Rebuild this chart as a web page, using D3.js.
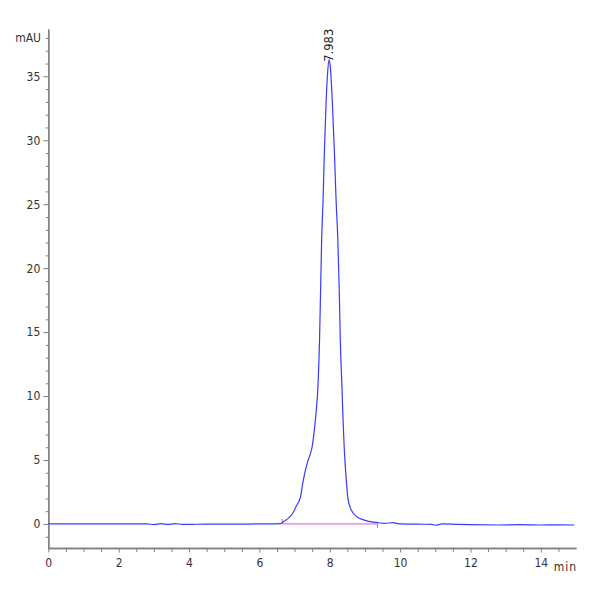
<!DOCTYPE html>
<html>
<head>
<meta charset="utf-8">
<script src="https://cdn.jsdelivr.net/npm/d3@7"></script>
<style>
  html, body { margin: 0; padding: 0; background: #fff; }
  svg { display: block; }
  .tk text, .unit { font-family: "Liberation Sans Narrow", "DejaVu Sans Condensed", sans-serif; font-stretch: condensed; font-size: 12px; fill: #333; }
</style>
</head>
<body>
<svg id="chart" width="600" height="600"></svg>
<script>
// ---- data ----
const timeMin = [0, 1, 2, 2.8, 3.0, 3.2, 3.4, 3.6, 3.8, 4.5, 5.5, 5.9, 6.3, 6.6, 6.67, 6.8, 6.95, 7.05, 7.17, 7.25, 7.36, 7.45, 7.50, 7.56, 7.61, 7.66, 7.71, 7.74, 7.77, 7.81, 7.85, 7.90, 7.94, 7.983, 8.02, 8.07, 8.13, 8.18, 8.23, 8.27, 8.30, 8.35, 8.38, 8.41, 8.47, 8.51, 8.58, 8.67, 8.80, 8.94, 9.10, 9.32, 9.55, 9.80, 10.0, 10.5, 10.9, 11.0, 11.2, 11.6, 12.0, 12.8, 13.4, 14.0, 14.5, 14.95];
const signal  = [0.0, 0.0, 0.0, 0.0, -0.05, 0.02, -0.04, 0.02, -0.03, -0.02, -0.02, 0.0, 0.0, 0.02, 0.15, 0.4, 0.84, 1.4, 2.14, 3.44, 4.75, 5.5, 6.05, 7.3, 8.66, 10.5, 14.4, 18.3, 22.2, 25.35, 29.3, 33.2, 35.3, 36.3, 35.6, 33.2, 29.3, 25.35, 22.2, 18.3, 14.4, 10.5, 8.0, 6.05, 3.44, 2.14, 1.3, 0.84, 0.5, 0.34, 0.2, 0.13, 0.05, 0.1, 0.0, -0.02, -0.03, -0.1, 0.0, -0.03, -0.06, -0.08, -0.06, -0.08, -0.07, -0.08];
const yMajorTicks = [0, 5, 10, 15, 20, 25, 30, 35];
const xMajorTicks = [0, 2, 4, 6, 8, 10, 12, 14];
const peakLabel = "7.983";
const peakTime = 7.983;
const peakHeight = 36.3;
const baselineStart = 6.65;
const baselineEnd = 9.36;
const yUnit = "mAU";
const xUnit = "min";

// ---- drawing ----
const svg = d3.select("#chart");
const x = d3.scaleLinear().domain([0, 15]).range([48.3, 576]);
const y = d3.scaleLinear().domain([-1.88, 38.7]).range([548, 29]);

const axisColor = "#7f7f7f";

// y axis minor ticks
const yMinor = d3.range(-1, 39, 1).filter(v => !yMajorTicks.includes(v));
const gyMinor = svg.append("g").attr("transform", `translate(${x(0)},0)`)
  .call(d3.axisLeft(y).tickValues(yMinor).tickSize(2.5).tickFormat("").tickSizeOuter(0));
const gy = svg.append("g").attr("class", "tk").attr("transform", `translate(${x(0)},0)`)
  .call(d3.axisLeft(y).tickValues(yMajorTicks).tickSize(5).tickPadding(3).tickFormat(d3.format("d")).tickSizeOuter(0));

// x axis
const xMinor = d3.range(0.5, 15, 0.5).filter(v => !xMajorTicks.includes(v));
const gxMinor = svg.append("g").attr("transform", `translate(0,${y.range()[0]})`)
  .call(d3.axisBottom(x).tickValues(xMinor).tickSize(4).tickFormat("").tickSizeOuter(0));
const gx = svg.append("g").attr("class", "tk").attr("transform", `translate(0,${y.range()[0]})`)
  .call(d3.axisBottom(x).tickValues(xMajorTicks).tickSize(4.5).tickPadding(6).tickFormat(d3.format("d")).tickSizeOuter(0));

[gyMinor, gy, gxMinor, gx].forEach(g => {
  g.selectAll("path.domain").attr("stroke", axisColor).attr("stroke-width", 1.3);
  g.selectAll(".tick line").attr("stroke", axisColor).attr("stroke-width", 1);
  g.selectAll("text").attr("font-family", null).attr("font-size", null);
});

// units
svg.append("text").attr("class", "unit").attr("x", 41).attr("y", 42).attr("text-anchor", "end")
  .text(yUnit);
svg.append("text").attr("class", "unit").attr("x", 577).attr("y", 570.5).attr("text-anchor", "end")
  .attr("letter-spacing", "1px").text(xUnit);

// integration baseline
svg.append("line")
  .attr("x1", x(baselineStart)).attr("x2", x(baselineEnd))
  .attr("y1", y(0)).attr("y2", y(0))
  .attr("stroke", "#f070f0").attr("stroke-width", 1.2);
svg.append("line")
  .attr("x1", x(baselineStart)).attr("x2", x(baselineStart))
  .attr("y1", y(0) - 5).attr("y2", y(0))
  .attr("stroke", "#888").attr("stroke-width", 1);
svg.append("line")
  .attr("x1", x(baselineEnd)).attr("x2", x(baselineEnd))
  .attr("y1", y(0)).attr("y2", y(0) + 4)
  .attr("stroke", "#888").attr("stroke-width", 1);

// chromatogram line
const pts = timeMin.map((t, i) => [t, signal[i]]);
const line = d3.line().x(d => x(d[0])).y(d => y(d[1])).curve(d3.curveMonotoneX);
svg.append("path").datum(pts)
  .attr("d", line)
  .attr("fill", "none")
  .attr("stroke", "#3a3aff")
  .attr("stroke-width", 1.2);

// peak label
svg.append("text")
  .attr("transform", `translate(${x(peakTime) + 4},${y(peakHeight) + 2}) rotate(-90)`)
  .attr("font-family", '"DejaVu Sans", "Liberation Sans", sans-serif')
  .attr("font-size", 11.5).attr("fill", "#222")
  .text(peakLabel);
</script>
</body>
</html>
